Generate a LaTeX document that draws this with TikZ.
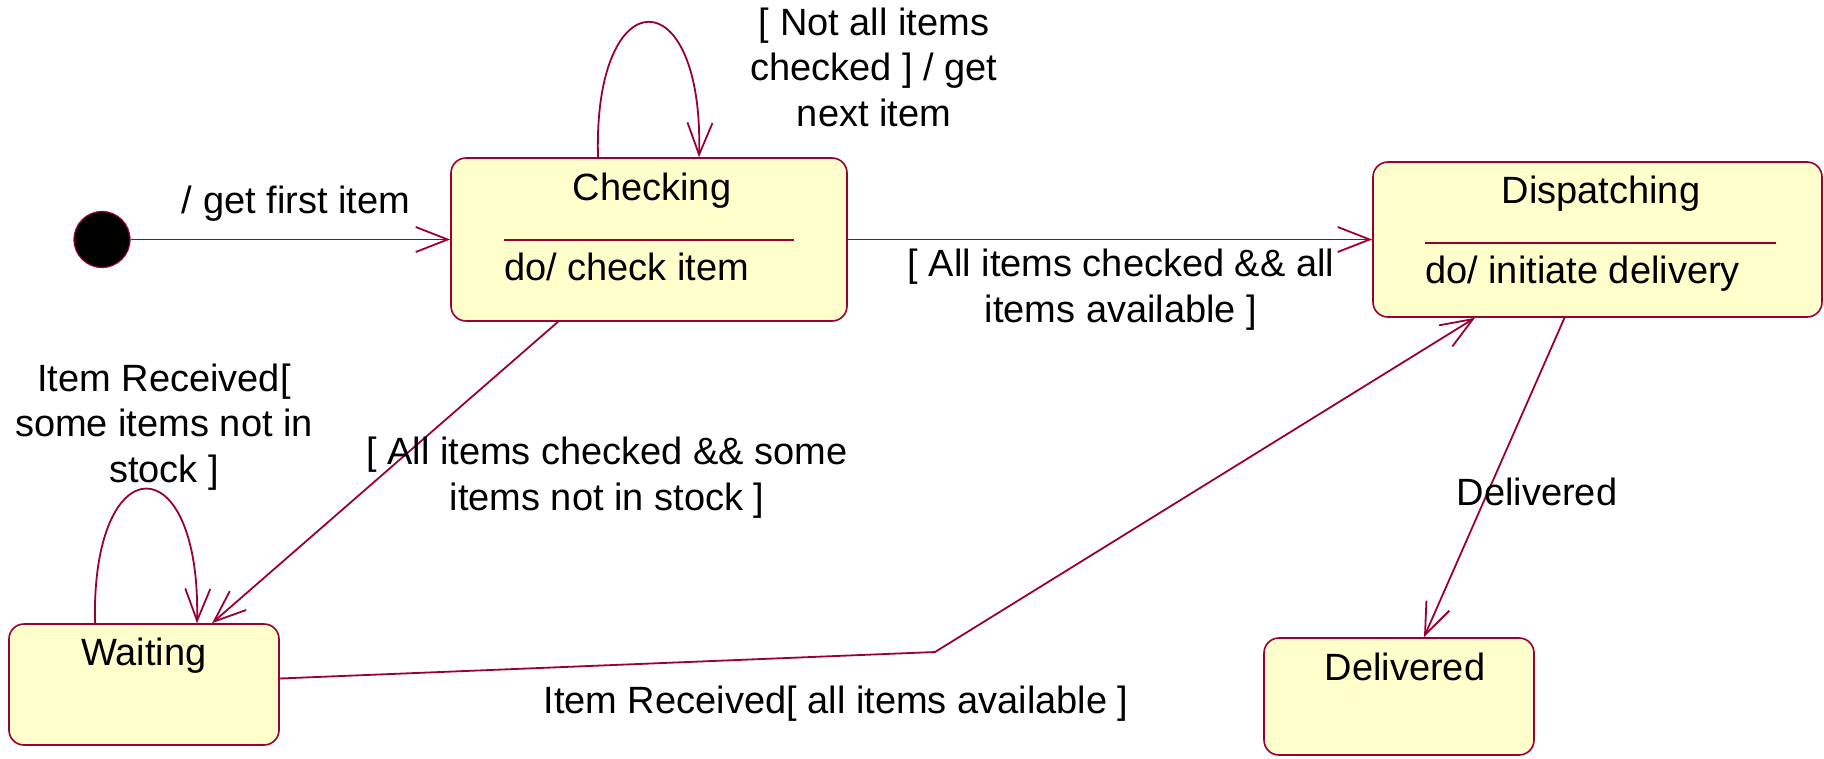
\documentclass[tikz,border=0pt]{standalone}
\usepackage{fontspec}
\setmainfont{Liberation Sans}
\usetikzlibrary{arrows.meta}
\definecolor{edgecol}{HTML}{990033}
\definecolor{statefill}{HTML}{FFFFCC}
\begin{document}
\begin{tikzpicture}[x=1pt,y=-1pt,
  statebox/.style={draw=edgecol, fill=statefill, rounded corners=15pt, line width=1.6pt, inner sep=0pt, rectangle},
  trans/.style={draw=edgecol, line width=1.8pt, -{Straight Barb[length=32pt,width=25pt]}},
  sepline/.style={draw=edgecol, line width=1.4pt},
  lbl/.style={font=\fontsize{38}{45.5}\selectfont, align=center, inner sep=0pt, anchor=base},
  txt/.style={font=\fontsize{38}{45.5}\selectfont, inner sep=0pt}]
\useasboundingbox (0,0) rectangle (1824,758);

% states
\node[circle, fill=black, draw=edgecol, line width=1.2pt, minimum size=56pt, inner sep=0pt] (init) at (102,239.5) {};
\node[statebox, minimum width=396pt, minimum height=163pt] (chk) at (649,239.5) {};
\node[statebox, minimum width=449pt, minimum height=155pt] (disp) at (1597.5,239.5) {};
\node[statebox, minimum width=270pt, minimum height=121pt] (wait) at (144,684.5) {};
\node[statebox, minimum width=270pt, minimum height=117pt] (deliv) at (1399,696.5) {};

% state texts
\node[txt, anchor=base] (chkname) at (652,200) {Checking};
\draw[sepline] (504,240) -- (794,240);
\node[txt, anchor=base west] (chkdo) at (504,280) {do/ check item};

\node[txt, anchor=base] (dispname) at (1601,203) {Dispatching};
\draw[sepline] (1425,243) -- (1776,243);
\node[txt, anchor=base west] (dispdo) at (1425,283) {do/ initiate delivery};

\node[txt, anchor=base] (waitname) at (144,665) {Waiting};
\node[txt, anchor=base] (delivname) at (1405,680) {Delivered};

% transitions
\draw[trans] (init) -- (chk);
\draw[trans] (chk) -- (disp);
\draw[trans] ([xshift=-51pt]chk.north) .. controls +(-5,-180) and +(5,-180) .. ([xshift=50pt]chk.north);
\draw[trans] ([xshift=-91pt]chk.south) -- ([xshift=68pt]wait.north);
\draw[trans] ([xshift=-49pt]wait.north) .. controls +(-4,-179) and +(4,-179) .. ([xshift=53pt]wait.north);
\coordinate (bend) at (935,652);
\draw[trans] ([yshift=6pt]wait.east) -- (bend) -- ([xshift=-122.5pt]disp.south);
\draw[trans] ([xshift=-33pt]disp.south) -- ([xshift=25pt]deliv.north);

% labels (anchor=base is the baseline of the last line)
\node[lbl] (l1) at (296,213) {/ get first item};
\node[lbl] (l2) at (874,126) {[ Not all items\\checked ] / get\\next item};
\node[lbl] (l3) at (1121,322) {[ All items checked \&\& all\\items available ]};
\node[lbl] (l4) at (607,510) {[ All items checked \&\& some\\items not in stock ]};
\node[lbl] (l5) at (164,482) {Item Received[\\some items not in\\stock ]};
\node[lbl] (l6) at (836,713) {Item Received[ all items available ]};
\node[lbl] (l7) at (1537,505) {Delivered};
\end{tikzpicture}
\end{document}
